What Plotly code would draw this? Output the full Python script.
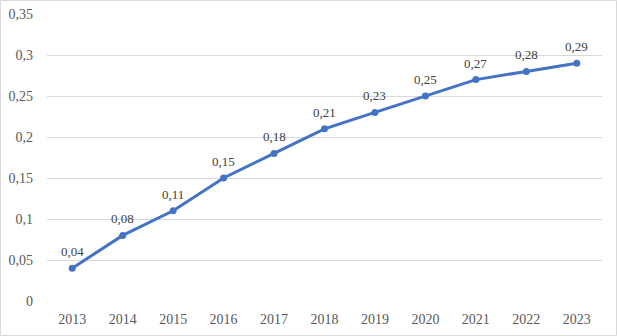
import plotly.graph_objects as go

years = ["2013", "2014", "2015", "2016", "2017", "2018", "2019", "2020", "2021", "2022", "2023"]
values = [0.04, 0.08, 0.11, 0.15, 0.18, 0.21, 0.23, 0.25, 0.27, 0.28, 0.29]
labels = ["0,04", "0,08", "0,11", "0,15", "0,18", "0,21", "0,23", "0,25", "0,27", "0,28", "0,29"]
y_ticks = [0, 0.05, 0.1, 0.15, 0.2, 0.25, 0.3, 0.35]

W, H = 617, 336
L, R, T, B = 47, 15, 14, 35
pw, ph = W - L - R, H - T - B

fig = go.Figure(go.Scatter(
    x=years, y=values, mode="lines+markers",
    line=dict(color="#4472C4", width=3),
    marker=dict(color="#4472C4", size=7),
    hoverinfo="skip",
))

for i, (yv, t) in enumerate(zip(values, labels)):
    fig.add_annotation(x=i, y=yv, text=t, showarrow=False, yanchor="bottom",
                       yshift=7, font=dict(family="Liberation Serif", size=13, color="#404040"))

fig.update_layout(
    width=W, height=H,
    margin=dict(l=L, r=R, t=T, b=B, autoexpand=False),
    paper_bgcolor="white", plot_bgcolor="white",
    separators=",.",
    showlegend=False,
    font=dict(family="Liberation Serif", size=14, color="#595959"),
    xaxis=dict(type="category", range=[-0.5, 10.5], showgrid=False, showline=False,
               zeroline=False, ticks="", ticklabelstandoff=8, automargin=False,
               tickfont=dict(family="Liberation Serif", size=14, color="#595959")),
    yaxis=dict(range=[0, 0.35], tickvals=y_ticks, showgrid=True, gridcolor="#d9d9d9",
               gridwidth=1, zeroline=False, showline=False, ticks="",
               ticklabelstandoff=13, automargin=False,
               tickfont=dict(family="Liberation Serif", size=14, color="#595959")),
    shapes=[dict(type="rect", xref="paper", yref="paper",
                 x0=-(L - 0.5) / pw, x1=1 + (R - 0.5) / pw,
                 y0=-(B - 0.5) / ph, y1=1 + (T - 0.5) / ph,
                 line=dict(color="#d9d9d9", width=1), layer="below")],
)

fig.write_html("out.html")
